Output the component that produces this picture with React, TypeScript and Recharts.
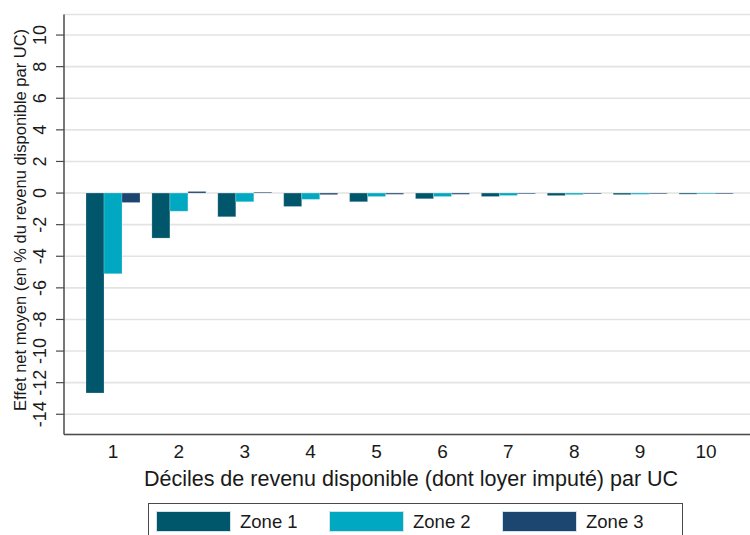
import React from "react";
import {
  BarChart,
  Bar,
  XAxis,
  YAxis,
  CartesianGrid,
  Label,
} from "recharts";

const deciles = ["1", "2", "3", "4", "5", "6", "7", "8", "9", "10"];
const zone1 = [-12.65, -2.85, -1.5, -0.85, -0.55, -0.36, -0.22, -0.16, -0.1, -0.07];
const zone2 = [-5.1, -1.15, -0.55, -0.4, -0.22, -0.22, -0.15, -0.1, -0.08, -0.05];
const zone3 = [-0.6, 0.1, 0.05, -0.1, -0.08, -0.08, -0.05, -0.05, -0.05, -0.05];
const yTicks = [-14, -12, -10, -8, -6, -4, -2, 0, 2, 4, 6, 8, 10];

const series = [
  { key: "zone1", name: "Zone 1", color: "#00566a" },
  { key: "zone2", name: "Zone 2", color: "#00a8c1" },
  { key: "zone3", name: "Zone 3", color: "#1c4570" },
];

const data = deciles.map((d, i) => ({
  decile: d,
  zone1: zone1[i],
  zone2: zone2[i],
  zone3: zone3[i],
}));

const FONT = "'Liberation Sans', Arial, sans-serif";
const TEXT = "#1a1a1a";
const AXIS = "#4a4a4a";

// y tick labels are turned on their side, as in the original
function YTick(props: any) {
  const { y, payload } = props;
  const cx = 40;
  return (
    <text
      x={cx}
      y={y}
      dy="0.36em"
      transform={`rotate(-90 ${cx} ${y})`}
      textAnchor="middle"
      fontSize={18}
      fontFamily={FONT}
      fill={TEXT}
    >
      {payload.value}
    </text>
  );
}

function Legendbox() {
  return (
    <div
      style={{
        position: "absolute",
        left: 148,
        top: 503,
        width: 535,
        height: 40,
        border: `1.5px solid ${AXIS}`,
        boxSizing: "border-box",
        fontFamily: FONT,
        fontSize: 18.5,
        color: TEXT,
      }}
    >
      {series.map((s, i) => (
        <div
          key={s.key}
          style={{
            position: "absolute",
            left: 7 + i * 173,
            top: 7,
            display: "flex",
            alignItems: "center",
            height: 21,
          }}
        >
          <div
            style={{
              width: 75,
              height: 21,
              background: s.color,
              border: "1px solid #cfe3e8",
              boxSizing: "border-box",
            }}
          />
          <span style={{ marginLeft: 9 }}>{s.name}</span>
        </div>
      ))}
    </div>
  );
}

export default function App() {
  return (
    <div style={{ position: "absolute", left: 0, top: 0, width: 750, height: 535, overflow: "hidden", background: "#fff" }}>
      <BarChart
        width={750}
        height={535}
        data={data}
        margin={{ top: 14.5, right: 0, bottom: 40.5, left: 0 }}
        barCategoryGap={6}
        barGap={0}
      >
        <CartesianGrid vertical={false} stroke="#e3e3e3" strokeWidth={1.6} />
        <XAxis
          dataKey="decile"
          padding={{ left: 16, right: 11 }}
          tickLine={false}
          tickMargin={4}
          axisLine={{ stroke: AXIS, strokeWidth: 1.5 }}
          tick={{ fontSize: 19, fill: TEXT, fontFamily: FONT }}
          height={60}
        >
          <Label
            content={() => (
              <text x={411} y={486} textAnchor="middle" fontSize={21.5} fontFamily={FONT} fill={TEXT}>
                Déciles de revenu disponible (dont loyer imputé) par UC
              </text>
            )}
          />
        </XAxis>
        <XAxis
          xAxisId="top"
          dataKey="decile"
          orientation="top"
          tick={false}
          tickLine={false}
          axisLine={{ stroke: AXIS, strokeWidth: 1.5 }}
          height={0}
        />
        <YAxis
          type="number"
          domain={[-15.28, 11.3]}
          ticks={yTicks}
          interval={0}
          width={64}
          tickSize={8}
          tickLine={{ stroke: AXIS, strokeWidth: 1.2 }}
          axisLine={{ stroke: AXIS, strokeWidth: 1.5 }}
          tick={<YTick />}
        >
          <Label
            content={() => (
              <text
                x={20}
                y={220}
                dy="0.36em"
                transform="rotate(-90 20 220)"
                textAnchor="middle"
                fontSize={16.5}
                fontFamily={FONT}
                fill={TEXT}
              >
                Effet net moyen (en % du revenu disponible par UC)
              </text>
            )}
          />
        </YAxis>
        {series.map((s) => (
          <Bar
            key={s.key}
            dataKey={s.key}
            name={s.name}
            fill={s.color}
            stroke="#ffffff"
            strokeOpacity={0.35}
            strokeWidth={0.6}
            isAnimationActive={false}
          />
        ))}
      </BarChart>
      <Legendbox />
    </div>
  );
}
